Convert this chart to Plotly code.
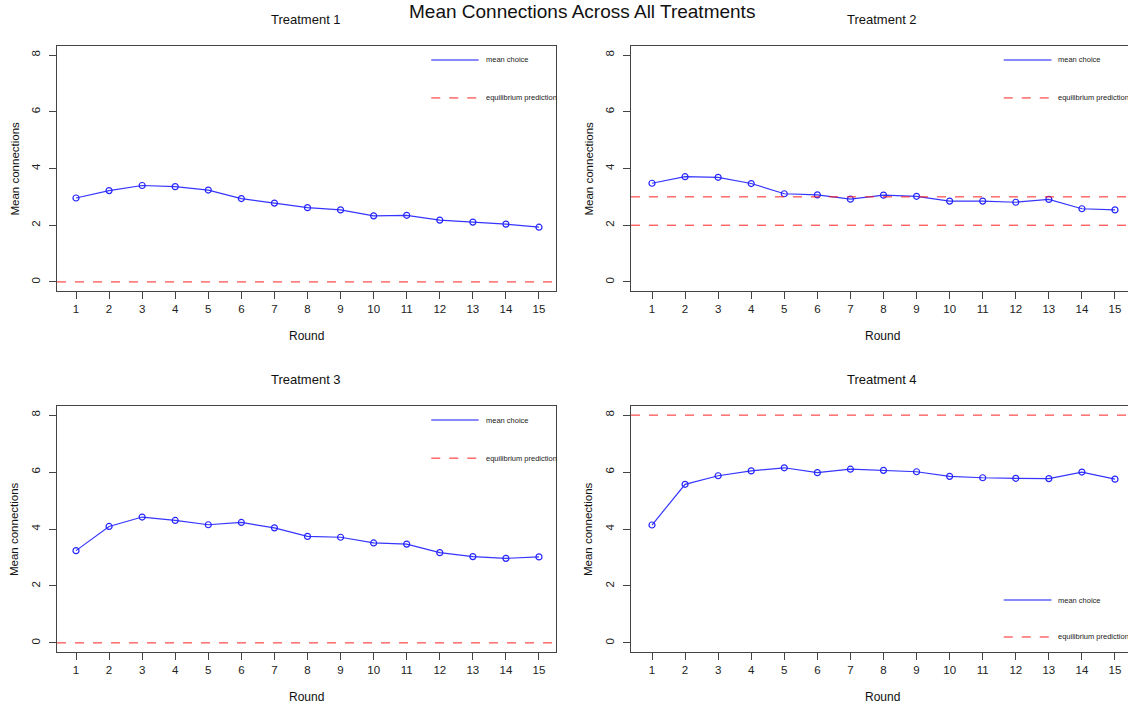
import plotly.graph_objects as go

rounds = list(range(1, 16))
treatments = ["Treatment 1", "Treatment 2", "Treatment 3", "Treatment 4"]
t1_mean = [2.96, 3.22, 3.40, 3.36, 3.24, 2.94, 2.78, 2.62, 2.54, 2.33, 2.35, 2.18, 2.11, 2.04, 1.93]
t2_mean = [3.48, 3.71, 3.69, 3.47, 3.11, 3.07, 2.92, 3.06, 3.02, 2.85, 2.85, 2.81, 2.91, 2.58, 2.54]
t3_mean = [3.24, 4.09, 4.42, 4.30, 4.15, 4.23, 4.04, 3.74, 3.71, 3.51, 3.47, 3.17, 3.03, 2.97, 3.02]
t4_mean = [4.14, 5.57, 5.87, 6.04, 6.15, 5.98, 6.10, 6.06, 6.01, 5.85, 5.80, 5.78, 5.77, 6.00, 5.75]
means = [t1_mean, t2_mean, t3_mean, t4_mean]
equilibria = [[0], [3, 2], [0], [8]]
y_ticks = [0, 2, 4, 6, 8]

W, H = 1128, 706
FONT = "Liberation Sans, Arial, Helvetica, sans-serif"


def px(xpage):
    return xpage / W


def py(ypage):
    return (H - ypage) / H


# page-pixel boxes of each panel: left, right, top, bottom
boxes = [(57, 556, 46, 291), (631, 1128, 46, 291), (57, 556, 406, 652), (631, 1128, 406, 652)]
legend_y = [(0.943, 0.788), (0.943, 0.788), (0.943, 0.788), (0.211, 0.061)]

fig = go.Figure()
for i, (name, ys) in enumerate(zip(treatments, means)):
    l, r, t, b = boxes[i]
    n = i + 1
    xa = "x" if n == 1 else f"x{n}"
    ya = "y" if n == 1 else f"y{n}"
    xk = "xaxis" if n == 1 else f"xaxis{n}"
    yk = "yaxis" if n == 1 else f"yaxis{n}"
    ppu = 33.07
    first_tick = 76 if i % 2 == 0 else 652
    x0 = 1 - (first_tick - l) / ppu
    x1 = x0 + (r - l) / ppu
    fig.add_trace(go.Scatter(
        x=rounds, y=ys, mode="lines+markers", xaxis=xa, yaxis=ya,
        line=dict(color="#3535ff", width=1.2),
        marker=dict(symbol="circle-open", size=6, color="#2525ff", line=dict(width=1.2)),
        showlegend=False, hoverinfo="x+y"))
    fig.layout[xk] = dict(
        domain=[px(l), min(px(r), 1.0)], range=[x0, x1], anchor=ya,
        tickmode="array", tickvals=rounds, ticktext=[str(v) for v in rounds],
        ticks="outside", ticklen=7, tickcolor="#444", tickwidth=1,
        showline=True, linecolor="#444", linewidth=1, mirror=True,
        showgrid=False, zeroline=False,
        tickfont=dict(family=FONT, size=11.5, color="#222"))
    fig.layout[yk] = dict(
        domain=[py(b), py(t)], range=[-0.32, 8.32], anchor=xa,
        tickmode="array", tickvals=y_ticks, ticktext=[str(v) for v in y_ticks],
        ticks="outside", ticklen=7, tickcolor="#444", tickwidth=1, tickangle=-90,
        ticklabelstandoff=4,
        showline=True, linecolor="#444", linewidth=1, mirror=True,
        showgrid=False, zeroline=False,
        tickfont=dict(family=FONT, size=11.5, color="#222"))
    for eq in equilibria[i]:
        fig.add_shape(type="line", xref=f"{xa} domain", yref=ya, x0=0, x1=1, y0=eq, y1=eq,
                      line=dict(color="#ff2020", width=1, dash="dash"))
    # legend
    ly1, ly2 = legend_y[i]
    lx0, lx1, ltx = (0.75, 0.845, 0.856) if i % 2 == 0 else (0.75, 0.846, 0.856)
    fig.add_shape(type="line", xref=f"{xa} domain", yref=f"{ya} domain",
                  x0=lx0, x1=lx1, y0=ly1, y1=ly1, line=dict(color="#6060ff", width=1.5))
    fig.add_shape(type="line", xref=f"{xa} domain", yref=f"{ya} domain",
                  x0=lx0, x1=lx1, y0=ly2, y1=ly2, line=dict(color="#ff2020", width=1, dash="dash"))
    for txt, yy in (("mean choice", ly1), ("equilibrium prediction", ly2)):
        fig.add_annotation(text=txt, xref=f"{xa} domain", yref=f"{ya} domain", x=ltx, y=yy,
                           xanchor="left", yanchor="middle", showarrow=False,
                           font=dict(family=FONT, size=7.5, color="#222"))
    cx = 306 if i % 2 == 0 else 882
    # panel title
    fig.add_annotation(text=name, xref="paper", yref="paper", x=px(cx), y=py(t - 26),
                       xanchor="center", yanchor="middle", showarrow=False,
                       font=dict(family=FONT, size=13, color="#111"))
    # x axis title
    fig.add_annotation(text="Round", xref="paper", yref="paper", x=px(cx), y=py(b + 45),
                       xanchor="center", yanchor="middle", showarrow=False,
                       font=dict(family=FONT, size=12, color="#111"))
    # y axis title
    fig.add_annotation(text="Mean connections", xref="paper", yref="paper", x=px(l - 43),
                       y=py((t + b) / 2), xanchor="center", yanchor="middle",
                       textangle=-90, showarrow=False,
                       font=dict(family=FONT, size=11.5, color="#111"))

fig.add_annotation(text="Mean Connections Across All Treatments", xref="paper", yref="paper",
                   x=px(582), y=py(12), xanchor="center", yanchor="middle", showarrow=False,
                   font=dict(family=FONT, size=19, color="#111"))

fig.update_layout(width=W, height=H, margin=dict(l=0, r=0, t=0, b=0),
                  paper_bgcolor="white", plot_bgcolor="white")
fig.write_html("out.html", config={"displayModeBar": False},
               post_script="document.body.style.margin='0px';document.body.style.overflow='hidden';")
